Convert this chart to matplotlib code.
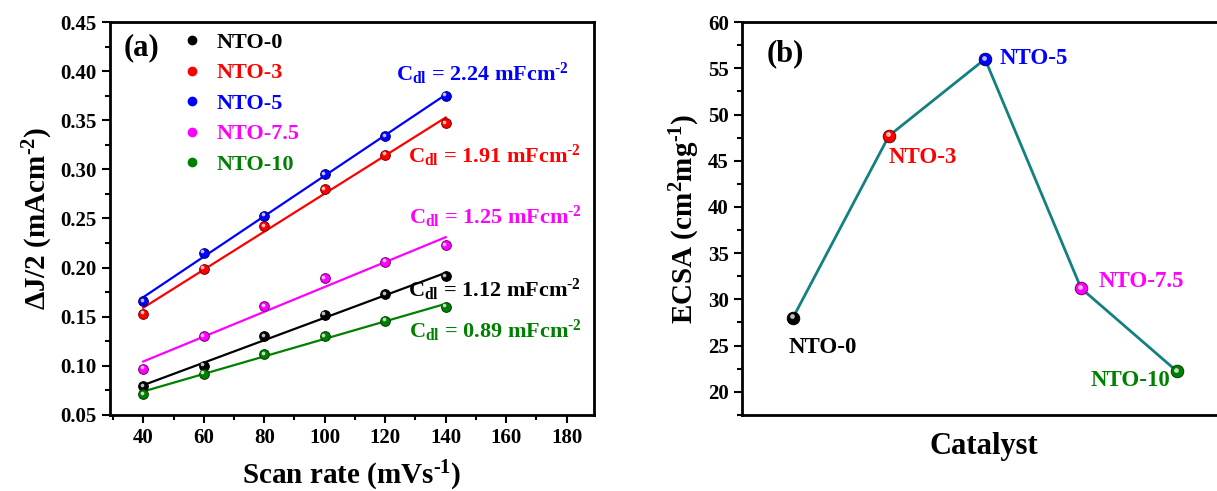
import matplotlib
matplotlib.use('Agg')
import matplotlib.pyplot as plt
import matplotlib.transforms as mtransforms
from matplotlib.ticker import MultipleLocator, FormatStrFormatter
from matplotlib.colors import to_rgb
import numpy as np

plt.rcParams['font.family'] = ['Liberation Serif', 'DejaVu Serif']
plt.rcParams['font.weight'] = 'bold'
plt.rcParams['mathtext.fontset'] = 'custom'
plt.rcParams['mathtext.rm'] = 'Liberation Serif:bold'
plt.rcParams['mathtext.bf'] = 'Liberation Serif:bold'
plt.rcParams['mathtext.it'] = 'Liberation Serif:bold'
plt.rcParams['mathtext.default'] = 'bf'

# ---- data ----
scan_rate = [40, 60, 80, 100, 120, 140]
names = ['NTO-0', 'NTO-3', 'NTO-5', 'NTO-7.5', 'NTO-10']
colors = ['black', '#ff0000', '#0000ff', '#ff00ff', '#008000']
nto0 = [0.079, 0.100, 0.130, 0.152, 0.173, 0.191]
nto3 = [0.153, 0.199, 0.242, 0.280, 0.315, 0.347]
nto5 = [0.166, 0.215, 0.253, 0.295, 0.334, 0.375]
nto75 = [0.097, 0.130, 0.161, 0.189, 0.206, 0.223]
nto10 = [0.071, 0.092, 0.112, 0.130, 0.146, 0.160]
cdl = ['1.12', '1.91', '2.24', '1.25', '0.89']
ecsa = [28.0, 47.7, 56.0, 31.2, 22.2]

series = [nto0, nto3, nto5, nto75, nto10]
# where the C_dl text sits (data coords of panel a)
cdl_pos = [(127.5, 0.177), (127.5, 0.314), (123.5, 0.397), (128, 0.252), (128, 0.136)]
HY = '\u2010'  # hyphen used in the superscripts


def ball(ax, x, y, color, ms=7, zorder=5):
    # shaded sphere look: dark rim, coloured body, small light spot
    c = np.array(to_rgb(color))
    dark = c * 0.45
    light = c + (1 - c) * 0.75
    ax.plot(x, y, 'o', ms=ms, color=color, mec=dark, mew=0.7, zorder=zorder, ls='none')
    tr = mtransforms.offset_copy(ax.transData, fig=ax.figure, x=-1.0, y=1.0, units='points')
    ax.plot(x, y, 'o', ms=ms * 0.38, color=light, mec='none', zorder=zorder + 0.1,
            ls='none', transform=tr)


def style_axes(ax):
    ax.tick_params(which='both', direction='out', width=1.5, labelsize=15,
                   top=False, right=False)
    ax.tick_params(which='major', length=6)
    ax.tick_params(which='minor', length=3.5)
    for lab in ax.get_xticklabels() + ax.get_yticklabels():
        lab.set_fontweight('bold')
    for sp in ax.spines.values():
        sp.set_linewidth(2)


fig = plt.figure(figsize=(12.17, 4.91), dpi=100)

# ---------------- panel (a) ----------------
ax1 = fig.add_axes([0.0904, 0.155, 0.3976, 0.80])
x = np.array(scan_rate)
for vals, col, name in zip(series, colors, names):
    k, b = np.polyfit(x, vals, 1)
    ax1.plot(x, k * x + b, color=col, lw=1.6, zorder=3)
    ball(ax1, x, vals, col)
    ax1.plot([], [], 'o', ms=6, color=col, label=name, ls='none')

for (px, py), val, col in zip(cdl_pos, cdl, colors):
    ax1.text(px, py, r'C$_{\mathbf{dl}}$ = ' + val + r' mFcm$^{\mathbf{' + HY + '2}}$',
             color=col, fontsize=16, ha='left', va='center')

ax1.text(33.5, 0.424, '(a)', fontsize=22, fontweight='bold', va='center')

leg = ax1.legend(loc='upper left', bbox_to_anchor=(0.105, 1.025), frameon=False,
                 handletextpad=0.6, labelspacing=0.45, handlelength=1.0,
                 prop={'size': 16, 'weight': 'bold'})
for t, col in zip(leg.get_texts(), colors):
    t.set_color(col)

ax1.set_xlim(29, 189)
ax1.set_ylim(0.05, 0.45)
ax1.xaxis.set_major_locator(MultipleLocator(20))
ax1.xaxis.set_minor_locator(MultipleLocator(10))
ax1.yaxis.set_major_locator(MultipleLocator(0.05))
ax1.yaxis.set_minor_locator(MultipleLocator(0.025))
ax1.yaxis.set_major_formatter(FormatStrFormatter('%.2f'))
ax1.set_xlabel(r'Scan rate (mVs$^{\mathbf{' + HY + '1}}$)', fontsize=21,
               fontweight='bold', labelpad=8)
ax1.set_ylabel(r'$\mathbf{\Delta}$J/2 (mAcm$^{\mathbf{' + HY + '2}}$)', fontsize=21,
               fontweight='bold')
style_axes(ax1)

# ---------------- panel (b) ----------------
ax2 = fig.add_axes([0.6097, 0.155, 0.397, 0.80])
cx = np.arange(1, len(names) + 1)
ax2.plot(cx, ecsa, color='#138080', lw=2, zorder=3)
for xi, yi, col in zip(cx, ecsa, colors):
    ball(ax2, [xi], [yi], col, ms=9)

# label placement next to each point: (dx, dy, ha)
label_off = [(-0.05, -3.2, 'left'), (0.0, -2.3, 'left'), (0.15, 0.1, 'left'),
             (0.18, 0.7, 'left'), (-0.07, -0.95, 'right')]
for xi, yi, name, col, (dx, dy, ha) in zip(cx, ecsa, names, colors, label_off):
    ax2.text(xi + dx, yi + dy, name, color=col, fontsize=16.5, ha=ha, va='center')

ax2.text(0.73, 56.6, '(b)', fontsize=22, fontweight='bold', va='center')

ax2.set_xlim(0.47, 5.5)
ax2.set_ylim(17.5, 60)
ax2.set_xticks([])
ax2.yaxis.set_major_locator(MultipleLocator(5))
ax2.yaxis.set_minor_locator(MultipleLocator(2.5))
ax2.set_xlabel('Catalyst', fontsize=22, fontweight='bold', labelpad=12)
ax2.set_ylabel(r'ECSA (cm$^{\mathbf{2}}$mg$^{\mathbf{' + HY + '1}}$)', fontsize=21,
               fontweight='bold')
style_axes(ax2)

fig.savefig('out.png', dpi=100)
